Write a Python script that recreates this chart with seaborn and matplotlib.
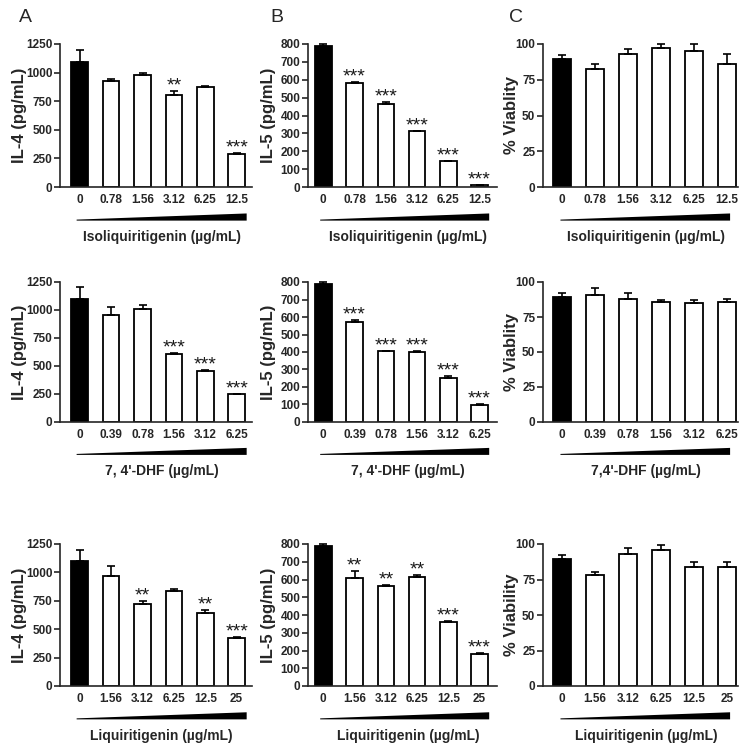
import matplotlib
matplotlib.use("Agg")
import matplotlib.pyplot as plt
import matplotlib.transforms as mtransforms
import pandas as pd
import seaborn as sns

# concentrations (ug/mL)
conc_isl = ["0", "0.78", "1.56", "3.12", "6.25", "12.5"]
conc_dhf = ["0", "0.39", "0.78", "1.56", "3.12", "6.25"]
conc_liq = ["0", "1.56", "3.12", "6.25", "12.5", "25"]

# isoliquiritigenin
il4_isl = [1095, 930, 975, 802, 878, 290]
il4_isl_err = [105, 14, 25, 40, 4, 5]
il4_isl_sig = ["", "", "", "**", "", "***"]
il5_isl = [787, 584, 462, 313, 144, 10]
il5_isl_err = [12, 3, 14, 3, 3, 3]
il5_isl_sig = ["", "***", "***", "***", "***", "***"]
via_isl = [89.5, 82.5, 93, 97.5, 95, 86]
via_isl_err = [2.5, 3.5, 3.5, 2.5, 5, 7]

# 7,4'-DHF
il4_dhf = [1097, 958, 1005, 610, 452, 249]
il4_dhf_err = [105, 70, 42, 4, 12, 4]
il4_dhf_sig = ["", "", "", "***", "***", "***"]
il5_dhf = [787, 571, 405, 398, 251, 99]
il5_dhf_err = [12, 13, 3, 7, 11, 3]
il5_dhf_sig = ["", "***", "***", "***", "***", "***"]
via_dhf = [89.5, 91, 88, 85.5, 85, 85.5]
via_dhf_err = [2.5, 4.5, 4.5, 2, 2, 2.5]

# liquiritigenin
il4_liq = [1097, 965, 726, 835, 644, 426]
il4_liq_err = [103, 90, 22, 22, 25, 5]
il4_liq_sig = ["", "", "**", "", "**", "***"]
il5_liq = [786, 610, 565, 616, 363, 182]
il5_liq_err = [12, 38, 3, 8, 3, 3]
il5_liq_sig = ["", "**", "**", "**", "***", "***"]
via_liq = [89.5, 78, 93, 96, 83.5, 84]
via_liq_err = [2.5, 2, 4.5, 3.5, 4, 3]

sns.set_style("ticks")
plt.rcParams["font.family"] = ["Liberation Sans", "DejaVu Sans"]

W, H = 750, 755
fig = plt.figure(figsize=(7.5, 7.55), dpi=100)

# pixel geometry of columns / rows (left, right) and (top, bottom)
cols = [(60, 252), (308, 497), (543, 738)]
col_xlim = [(-0.63, 5.49), (-0.49, 5.56), (-0.58, 5.34)]
col_wedge = [(-0.1, 5.32), (-0.1, 5.31), (-0.05, 5.1)]
col_ylab = [-0.21, -0.21, -0.16]
rows = [(44, 187), (282, 422), (544, 686)]


def plot_panel(ax, conc, vals, errs, sig, ymax, ystep, ylabel, xlabel, ci):
    df = pd.DataFrame({"conc": conc, "value": vals})
    colors = ["black"] + ["white"] * (len(conc) - 1)
    sns.barplot(data=df, x="conc", y="value", hue="conc", order=conc,
                hue_order=conc, palette=colors, width=0.53,
                edgecolor="black", linewidth=1.3, errorbar=None,
                legend=False, ax=ax)
    ax.errorbar(range(len(conc)), vals, yerr=[[0] * len(conc), errs],
                fmt="none", ecolor="black", elinewidth=1.2, capsize=3.2,
                capthick=1.2, clip_on=False, zorder=3)
    for i, s in enumerate(sig):
        if s:
            ax.annotate(s, xy=(i, vals[i] + errs[i]), xytext=(0, -2.5),
                        textcoords="offset points", ha="center",
                        va="bottom", fontsize=14, color="#1a1a1a")

    ax.set_xlim(col_xlim[ci])
    ax.set_ylim(0, ymax)
    ax.set_yticks(range(0, ymax + 1, ystep))
    sns.despine(ax=ax)
    for sp in ("left", "bottom"):
        ax.spines[sp].set_linewidth(1.2)
    ax.tick_params(axis="y", length=4, width=1.2, pad=1.5, labelsize=8.5)
    ax.tick_params(axis="x", length=0, pad=5, labelsize=8.5)
    for lab in ax.get_xticklabels() + ax.get_yticklabels():
        lab.set_fontweight("bold")

    ax.set_ylabel(ylabel, fontsize=12, fontweight="bold")
    ax.yaxis.set_label_coords(col_ylab[ci], 0.5)
    ax.yaxis.label.set_va("center")
    ax.set_xlabel(xlabel, fontsize=10, fontweight="bold")
    ax.xaxis.set_label_coords(0.53, -0.35)
    ax.xaxis.label.set_va("center")

    # concentration wedge under the axis
    trans = mtransforms.blended_transform_factory(ax.transData, ax.transAxes)
    x0, x1 = col_wedge[ci]
    ax.fill([x0, x1, x1, x0], [-0.235, -0.235, -0.185, -0.228],
            color="black", transform=trans, clip_on=False, lw=0)


panels = [
    [(conc_isl, il4_isl, il4_isl_err, il4_isl_sig, 1250, 250, "IL-4 (pg/mL)", "Isoliquiritigenin (µg/mL)"),
     (conc_isl, il5_isl, il5_isl_err, il5_isl_sig, 800, 100, "IL-5 (pg/mL)", "Isoliquiritigenin (µg/mL)"),
     (conc_isl, via_isl, via_isl_err, [""] * 6, 100, 25, "% Viablity", "Isoliquiritigenin (µg/mL)")],
    [(conc_dhf, il4_dhf, il4_dhf_err, il4_dhf_sig, 1250, 250, "IL-4 (pg/mL)", "7, 4'-DHF (µg/mL)"),
     (conc_dhf, il5_dhf, il5_dhf_err, il5_dhf_sig, 800, 100, "IL-5 (pg/mL)", "7, 4'-DHF (µg/mL)"),
     (conc_dhf, via_dhf, via_dhf_err, [""] * 6, 100, 25, "% Viablity", "7,4'-DHF (µg/mL)")],
    [(conc_liq, il4_liq, il4_liq_err, il4_liq_sig, 1250, 250, "IL-4 (pg/mL)", "Liquiritigenin (µg/mL)"),
     (conc_liq, il5_liq, il5_liq_err, il5_liq_sig, 800, 100, "IL-5 (pg/mL)", "Liquiritigenin (µg/mL)"),
     (conc_liq, via_liq, via_liq_err, [""] * 6, 100, 25, "% Viability", "Liquiritigenin (µg/mL)")],
]

for ri, (top, bot) in enumerate(rows):
    for ci, (left, right) in enumerate(cols):
        ax = fig.add_axes([left / W, 1 - bot / H, (right - left) / W, (bot - top) / H])
        plot_panel(ax, *panels[ri][ci], ci)

for letter, xpix in zip("ABC", (25, 277, 516)):
    fig.text(xpix / W, 1 - 18 / H, letter, fontsize=14, ha="center", va="center")

fig.savefig("out.png", dpi=100)
